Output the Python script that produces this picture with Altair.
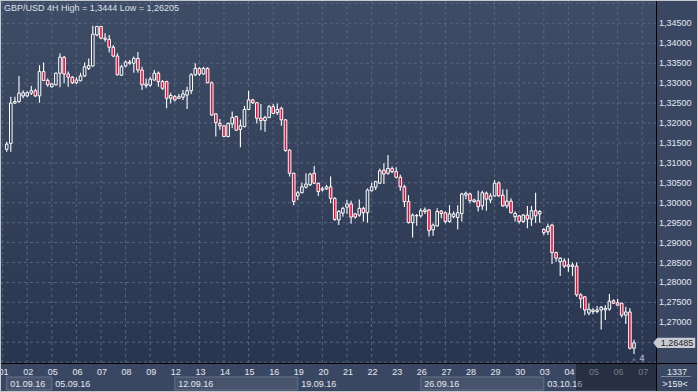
import altair as alt
import pandas as pd

# ---------------- data ----------------
opens = [1.3134, 1.3149, 1.3250, 1.3254, 1.3268, 1.3268, 1.3275, 1.3281, 1.3268, 1.3329,
         1.3307, 1.3291, 1.3296, 1.3325, 1.3365, 1.3323, 1.3315, 1.3301, 1.3306, 1.3318,
         1.3337, 1.3343, 1.3421, 1.3442, 1.3413, 1.3410, 1.3390, 1.3368, 1.3320, 1.3343,
         1.3350, 1.3350, 1.3362, 1.3333, 1.3294, 1.3295, 1.3308, 1.3325, 1.3304, 1.3304,
         1.3262, 1.3266, 1.3262, 1.3265, 1.3270, 1.3281, 1.3321, 1.3337, 1.3323, 1.3337,
         1.3301, 1.3223, 1.3199, 1.3193, 1.3166, 1.3198, 1.3216, 1.3184, 1.3191, 1.3234,
         1.3258, 1.3251, 1.3212, 1.3206, 1.3214, 1.3241, 1.3226, 1.3237, 1.3208, 1.3132,
         1.3074, 1.3017, 1.3025, 1.3039, 1.3045, 1.3074, 1.3049, 1.3035, 1.3035, 1.3040,
         1.3011, 1.2957, 1.2974, 1.2989, 1.2997, 1.2972, 1.2969, 1.2986, 1.2975, 1.3030,
         1.3039, 1.3049, 1.3082, 1.3074, 1.3086, 1.3078, 1.3064, 1.3040, 1.3003, 1.2950,
         1.2967, 1.2967, 1.2978, 1.2982, 1.2932, 1.2942, 1.2979, 1.2975, 1.2953, 1.2965,
         1.2963, 1.2973, 1.3019, 1.3022, 1.3003, 1.3005, 1.2992, 1.3024, 1.3007, 1.3017,
         1.3050, 1.3019, 1.2992, 1.3004, 1.2965, 1.2967, 1.2953, 1.2969, 1.2959, 1.2980,
         1.2972, 1.2933, 1.2927, 1.2944, 1.2875, 1.2852, 1.2854, 1.2840, 1.2844, 1.2841,
         1.2769, 1.2764, 1.2723, 1.2727, 1.2727, 1.2731, 1.2731, 1.2733, 1.2754, 1.2749,
         1.2748, 1.2718, 1.2726, 1.2635]
highs = [1.3153, 1.3266, 1.3266, 1.3318, 1.3282, 1.3280, 1.3293, 1.3286, 1.3345, 1.3352,
         1.3312, 1.3301, 1.3327, 1.3375, 1.3368, 1.3329, 1.3318, 1.3315, 1.3326, 1.3352,
         1.3362, 1.3444, 1.3444, 1.3443, 1.3425, 1.3421, 1.3396, 1.3375, 1.3346, 1.3357,
         1.3358, 1.3367, 1.3378, 1.3341, 1.3312, 1.3316, 1.3333, 1.3329, 1.3308, 1.3306,
         1.3276, 1.3270, 1.3273, 1.3283, 1.3291, 1.3325, 1.3350, 1.3340, 1.3341, 1.3340,
         1.3304, 1.3224, 1.3210, 1.3195, 1.3201, 1.3229, 1.3218, 1.3209, 1.3243, 1.3281,
         1.3261, 1.3253, 1.3248, 1.3218, 1.3245, 1.3248, 1.3249, 1.3241, 1.3209, 1.3134,
         1.3075, 1.3030, 1.3050, 1.3074, 1.3075, 1.3092, 1.3050, 1.3040, 1.3045, 1.3066,
         1.3014, 1.2982, 1.2990, 1.3007, 1.3005, 1.2975, 1.3008, 1.2990, 1.3036, 1.3050,
         1.3055, 1.3086, 1.3099, 1.3120, 1.3091, 1.3089, 1.3070, 1.3045, 1.3019, 1.2973,
         1.2972, 1.2986, 1.2988, 1.2984, 1.2948, 1.2986, 1.2982, 1.2978, 1.2994, 1.2978,
         1.2994, 1.3025, 1.3028, 1.3025, 1.3010, 1.3030, 1.3030, 1.3028, 1.3024, 1.3057,
         1.3053, 1.3034, 1.3034, 1.3011, 1.2978, 1.2969, 1.2972, 1.2992, 1.2992, 1.3025,
         1.2982, 1.2936, 1.2947, 1.2947, 1.2877, 1.2863, 1.2861, 1.2861, 1.2850, 1.2850,
         1.2773, 1.2766, 1.2748, 1.2735, 1.2741, 1.2741, 1.2743, 1.2771, 1.2758, 1.2759,
         1.2749, 1.2739, 1.2735, 1.2656]
lows = [1.3128, 1.3128, 1.3248, 1.3251, 1.3262, 1.3265, 1.3270, 1.3265, 1.3251, 1.3306,
        1.3291, 1.3289, 1.3294, 1.3290, 1.3300, 1.3291, 1.3298, 1.3298, 1.3305, 1.3316,
        1.3333, 1.3341, 1.3418, 1.3410, 1.3404, 1.3377, 1.3365, 1.3319, 1.3318, 1.3340,
        1.3346, 1.3326, 1.3326, 1.3283, 1.3287, 1.3291, 1.3306, 1.3291, 1.3283, 1.3237,
        1.3249, 1.3254, 1.3260, 1.3258, 1.3235, 1.3273, 1.3318, 1.3318, 1.3321, 1.3300,
        1.3218, 1.3166, 1.3183, 1.3165, 1.3164, 1.3187, 1.3181, 1.3139, 1.3189, 1.3233,
        1.3248, 1.3199, 1.3182, 1.3178, 1.3212, 1.3223, 1.3220, 1.3193, 1.3128, 1.3066,
        1.2994, 1.3007, 1.3024, 1.3036, 1.3042, 1.3047, 1.3017, 1.3028, 1.3032, 1.2999,
        1.2955, 1.2944, 1.2965, 1.2972, 1.2947, 1.2960, 1.2965, 1.2953, 1.2950, 1.3028,
        1.3032, 1.3047, 1.3047, 1.3070, 1.3074, 1.3061, 1.3030, 1.2989, 1.2948, 1.2913,
        1.2942, 1.2963, 1.2972, 1.2915, 1.2917, 1.2940, 1.2961, 1.2948, 1.2950, 1.2961,
        1.2933, 1.2953, 1.3009, 1.2999, 1.3000, 1.2978, 1.2982, 1.2980, 1.2999, 1.3015,
        1.3015, 1.2990, 1.2986, 1.2973, 1.2953, 1.2948, 1.2950, 1.2936, 1.2942, 1.2950,
        1.2950, 1.2919, 1.2919, 1.2846, 1.2852, 1.2816, 1.2836, 1.2827, 1.2816, 1.2764,
        1.2735, 1.2718, 1.2718, 1.2721, 1.2723, 1.2682, 1.2706, 1.2729, 1.2746, 1.2741,
        1.2712, 1.2696, 1.2632, 1.26205]
closes = [1.3147, 1.3250, 1.3254, 1.3275, 1.3276, 1.3276, 1.3281, 1.3268, 1.3329, 1.3307,
          1.3296, 1.3298, 1.3325, 1.3365, 1.3323, 1.3315, 1.3301, 1.3308, 1.3318, 1.3341,
          1.3344, 1.3423, 1.3442, 1.3413, 1.3410, 1.3390, 1.3368, 1.3321, 1.3341, 1.3353,
          1.3353, 1.3362, 1.3333, 1.3296, 1.3298, 1.3310, 1.3325, 1.3304, 1.3287, 1.3262,
          1.3269, 1.3258, 1.3266, 1.3273, 1.3281, 1.3321, 1.3337, 1.3323, 1.3337, 1.3301,
          1.3220, 1.3201, 1.3193, 1.3166, 1.3199, 1.3214, 1.3182, 1.3193, 1.3234, 1.3258,
          1.3251, 1.3212, 1.3206, 1.3214, 1.3241, 1.3224, 1.3234, 1.3208, 1.3131, 1.3074,
          1.3003, 1.3025, 1.3040, 1.3047, 1.3072, 1.3049, 1.3028, 1.3032, 1.3040, 1.3011,
          1.2958, 1.2978, 1.2986, 1.2997, 1.2964, 1.2964, 1.2986, 1.2975, 1.3032, 1.3040,
          1.3053, 1.3080, 1.3072, 1.3086, 1.3078, 1.3064, 1.3040, 1.3003, 1.2950, 1.2969,
          1.2968, 1.2980, 1.2982, 1.2930, 1.2944, 1.2978, 1.2973, 1.2953, 1.2972, 1.2972,
          1.2975, 1.3022, 1.3024, 1.3005, 1.3007, 1.2990, 1.3025, 1.3009, 1.3017, 1.3049,
          1.3017, 1.2992, 1.3004, 1.2975, 1.2973, 1.2953, 1.2969, 1.2959, 1.2980, 1.2967,
          1.2978, 1.2925, 1.2940, 1.2875, 1.2861, 1.2861, 1.2841, 1.2844, 1.2840, 1.2769,
          1.2759, 1.2731, 1.2733, 1.2731, 1.2731, 1.2738, 1.2735, 1.2753, 1.2748, 1.2743,
          1.2718, 1.2726, 1.2635, 1.26485]

grid_prices = [1.260, 1.265, 1.270, 1.275, 1.280, 1.285, 1.290, 1.295, 1.300, 1.305,
               1.310, 1.315, 1.320, 1.325, 1.330, 1.335, 1.340, 1.345, 1.350]
label_prices = [1.270, 1.275, 1.280, 1.285, 1.290, 1.295, 1.300, 1.305, 1.310, 1.315,
                1.320, 1.325, 1.330, 1.335, 1.340, 1.345]
price_labels = ["1,27000", "1,27500", "1,28000", "1,28500", "1,29000", "1,29500",
                "1,30000", "1,30500", "1,31000", "1,31500", "1,32000", "1,32500",
                "1,33000", "1,33500", "1,34000", "1,34500"]

# day ticks (in bar-index units) and their labels
day_pos = [-1, 5, 11, 17, 23, 29, 35, 41, 47, 53, 59, 65, 71, 77, 83, 89, 95, 101,
           107, 113, 119, 125, 131, 137, 143, 149, 155]
day_labels = ["01", "02", "05", "06", "07", "08", "09", "12", "13", "14", "15", "16",
              "19", "20", "21", "22", "23", "26", "27", "28", "29", "30", "03", "04",
              "05", "06", "07"]
week_start = [0, 11, 41, 71, 101, 131]
week_end = [11, 41, 71, 101, 131, 155]
week_labels = ["01.09.16", "05.09.16", "12.09.16", "19.09.16", "26.09.16", "03.10.16"]
week_boxed = [True, False, True, False, True, False]

last_price = 1.26485
last_label = "1,26485"
title_text = "GBP/USD 4H  High = 1,3444  Low  = 1,26205"
bars_total_text = "1337"
bars_visible_text = ">159<"
ticks_text = "4"

# ---------------- styling ----------------
FONT = "Liberation Sans"
W, H = 698, 392
PR, PB = 656, 363
BG_TOP, BG_BOT = "#3f4c66", "#2a3650"
PANEL = "#3a4762"
GRID = "#58667f"
RED = "#ee0a36"
HOLLOW = "#36435c"
TXT = "#e4e9f0"

xs = alt.Scale(domain=[-6.7 / 4.1, (W - 6.7) / 4.1], nice=False, zero=False, padding=0)
ys = alt.Scale(domain=[1.252519, 1.350863], nice=False, zero=False, padding=0)

cdf = pd.DataFrame({"i": list(range(len(opens))), "o": opens, "h": highs,
                    "l": lows, "c": closes})
gdf = pd.DataFrame({"p": grid_prices})
ldf = pd.DataFrame({"p": label_prices, "t": price_labels})
ddf = pd.DataFrame({"d": day_pos, "t": day_labels})
wdf = pd.DataFrame({"s": week_start, "e": week_end, "t": week_labels, "b": week_boxed})
one = pd.DataFrame({"k": [0]})
lastdf = pd.DataFrame({"p": [last_price], "t": [last_label], "i": [len(opens) - 1]})

X = lambda f: alt.X(f, scale=xs, axis=None)
Y = lambda f: alt.Y(f, scale=ys, axis=None)

bg = alt.Chart(one).mark_rect(
    fill=alt.LinearGradient(gradient="linear",
                            stops=[alt.GradientStop(offset=0, color=BG_TOP),
                                   alt.GradientStop(offset=1, color=BG_BOT)],
                            x1=0, x2=0, y1=0, y2=1)
).encode(x=alt.value(0), x2=alt.value(PR), y=alt.value(0), y2=alt.value(PB))

right_panel = alt.Chart(one).mark_rect(fill=PANEL).encode(
    x=alt.value(PR), x2=alt.value(W), y=alt.value(0), y2=alt.value(H))
bottom_panel = alt.Chart(one).mark_rect(fill=PANEL).encode(
    x=alt.value(0), x2=alt.value(PR), y=alt.value(PB), y2=alt.value(H))

hgrid = alt.Chart(gdf).mark_rule(color=GRID, strokeWidth=1, strokeDash=[3, 3]).encode(
    y=Y("p:Q"), x=alt.value(0), x2=alt.value(PR))
vgrid = alt.Chart(ddf).mark_rule(color=GRID, strokeWidth=1, strokeDash=[3, 3]).encode(
    x=X("d:Q"), y=alt.value(0), y2=alt.value(PB))

wicks = alt.Chart(cdf).mark_rule(color="#ffffff", strokeWidth=1.1).encode(
    x=X("i:Q"), y=Y("l:Q"), y2="h:Q")
bodies = alt.Chart(cdf).mark_bar(size=2.6, stroke="#ffffff", strokeWidth=1).encode(
    x=X("i:Q"), y=Y("o:Q"), y2="c:Q",
    fill=alt.condition("datum.c >= datum.o", alt.value(HOLLOW), alt.value(RED)))

week_boxes = alt.Chart(wdf).transform_filter("datum.b").mark_rect(
    fill="#46536b", stroke="#66738a", strokeWidth=1).encode(
    x=X("s:Q"), x2="e:Q", y=alt.value(377), y2=alt.value(390))
week_text = alt.Chart(wdf).mark_text(
    align="left", baseline="middle", dx=3.5, font=FONT, fontSize=9, color=TXT).encode(
    x=X("s:Q"), y=alt.value(383.5), text="t:N")
day_text = alt.Chart(ddf).mark_text(
    align="center", baseline="middle", dx=1, font=FONT, fontSize=9, clip=True).encode(
    x=X("d:Q"), y=alt.value(371.5), text="t:N",
    color=alt.condition("datum.d > 139", alt.value("#a9b3c3"), alt.value(TXT)))
overlay = alt.Chart(one).mark_rect(fill="#000000", opacity=0.32).encode(
    x=alt.value(576), x2=alt.value(PR), y=alt.value(PB + 1), y2=alt.value(390))

vsep = alt.Chart(one).mark_rule(color="#000000", strokeWidth=1).encode(
    x=alt.value(PR + 0.5), y=alt.value(0), y2=alt.value(H))
hsep = alt.Chart(one).mark_rule(color="#000000", strokeWidth=1).encode(
    y=alt.value(PB + 0.5), x=alt.value(0), x2=alt.value(W))

price_text = alt.Chart(ldf).mark_text(
    align="left", baseline="middle", font=FONT, fontSize=9, color=TXT).encode(
    x=alt.value(659), y=Y("p:Q"), text="t:N")

tag_shape = "M-1,-0.27L1,-0.27L1,0.27L-1,0.27L-1.21,0Z"
tag = alt.Chart(lastdf).mark_point(
    shape=tag_shape, filled=True, fill="#c7ccd3", size=1444, opacity=1, strokeWidth=0).encode(
    x=alt.value(676.2), y=Y("p:Q"))
tag_text = alt.Chart(lastdf).mark_text(
    align="center", baseline="middle", font=FONT, fontSize=9, color="#1c2029").encode(
    x=alt.value(677), y=Y("p:Q"), text="t:N")

marker = alt.Chart(lastdf).mark_point(
    shape="triangle-up", filled=True, fill="#5e6676", size=18, opacity=1).encode(
    x=X("i:Q"), y=alt.value(359))
ticks_label = alt.Chart(one).mark_text(
    align="left", baseline="middle", font=FONT, fontSize=9, color="#c4d6f0").encode(
    x=alt.value(639.5), y=alt.value(358), text=alt.value(ticks_text))

bars_total = alt.Chart(one).mark_text(
    align="center", baseline="middle", font=FONT, fontSize=9, color=TXT).encode(
    x=alt.value(677), y=alt.value(371.5), text=alt.value(bars_total_text))
bars_line = alt.Chart(one).mark_rule(color="#7d899c", strokeWidth=1).encode(
    x=alt.value(661), x2=alt.value(691), y=alt.value(376.5))
bars_vis = alt.Chart(one).mark_text(
    align="center", baseline="middle", font=FONT, fontSize=9, color=TXT).encode(
    x=alt.value(675), y=alt.value(383.5), text=alt.value(bars_visible_text))

title = alt.Chart(one).mark_text(
    align="left", baseline="middle", font=FONT, fontSize=9, color="#dce2eb").encode(
    x=alt.value(4), y=alt.value(8), text=alt.value(title_text))

frame = alt.Chart(one).mark_rect(fill="transparent", stroke="#c3c8cf", strokeWidth=2).encode(
    x=alt.value(0), x2=alt.value(W), y=alt.value(0), y2=alt.value(H))

chart = alt.layer(
    bg, right_panel, bottom_panel, hgrid, vgrid, wicks, bodies,
    week_boxes, week_text, day_text, overlay, vsep, hsep,
    price_text, tag, tag_text, marker, ticks_label,
    bars_total, bars_line, bars_vis, title, frame
).properties(
    width=W, height=H, padding=0,
    autosize=alt.AutoSizeParams(type="none")
).configure_view(strokeWidth=0).configure(background=PANEL)

chart.save("out.html", embed_options={"renderer": "svg", "actions": False})
